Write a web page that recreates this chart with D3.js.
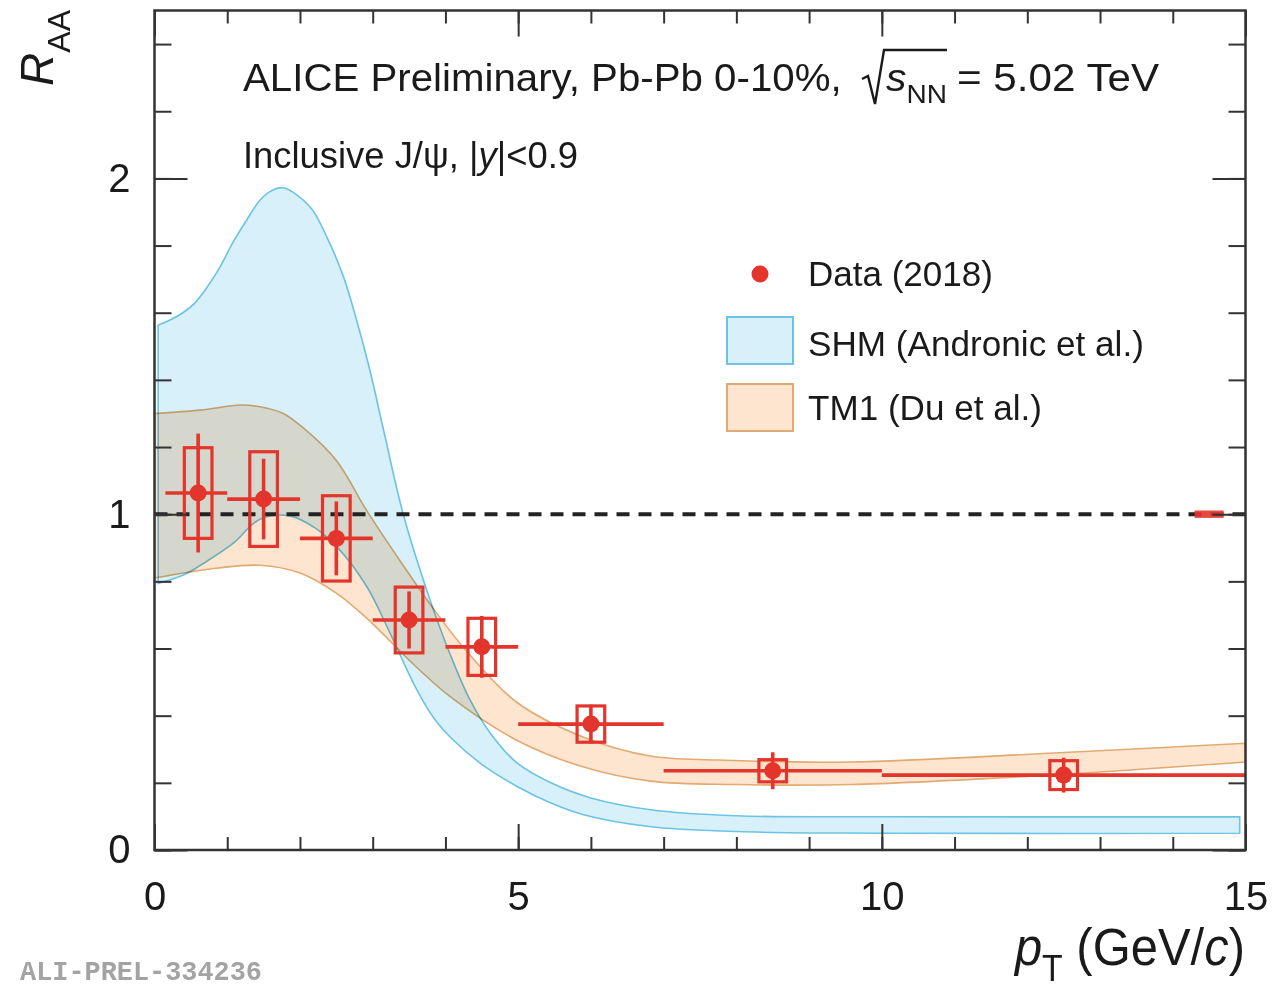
<!DOCTYPE html>
<html>
<head>
<meta charset="utf-8">
<script src="https://cdn.jsdelivr.net/npm/d3@7"></script>
<style>
  html, body { margin: 0; padding: 0; background: #fff; }
  svg { display: block; }
  text { font-family: "Liberation Sans", Arial, Helvetica, sans-serif; fill: #1a1a1a; }
</style>
</head>
<body>
<svg id="chart" width="1272" height="990"></svg>
<script>
// ---- J/psi R_AA vs pT, Pb-Pb 0-10%, 5.02 TeV ----
const ptCenter = [0.6, 1.5, 2.5, 3.5, 4.5, 6.0, 8.5, 12.5];
const ptLow    = [0.15, 1, 2, 3, 4, 5, 7, 10];
const ptHigh   = [1, 2, 3, 4, 5, 7, 10, 15];
const raa      = [1.063, 1.045, 0.928, 0.685, 0.605, 0.375, 0.236, 0.223];
const statErr  = [0.177, 0.12, 0.11, 0.085, 0.092, 0.058, 0.055, 0.052];
const systErr  = [0.135, 0.141, 0.127, 0.098, 0.085, 0.054, 0.033, 0.043];

// Global normalisation uncertainty (drawn at unity, high-pT end)
const normPt  = [14.3, 14.7];
const normErr = 0.011;

// SHM (Andronic et al.) band edges
const shmUpperPt = [0.05, 0.2, 0.39, 0.55, 0.72, 0.9, 1.08, 1.25, 1.45, 1.6, 1.77, 2.14, 2.37, 2.6, 2.78, 2.96, 3.15, 3.42, 3.79, 4.07, 4.34, 4.61, 4.98, 5.45, 6.0, 6.82, 8.0, 10.0, 14.92];
const shmUpper   = [1.563, 1.577, 1.60, 1.628, 1.675, 1.736, 1.81, 1.87, 1.935, 1.962, 1.972, 1.915, 1.825, 1.706, 1.577, 1.43, 1.25, 1.0, 0.744, 0.58, 0.446, 0.35, 0.26, 0.20, 0.155, 0.12, 0.102, 0.099, 0.099];
const shmLowerPt = [0.05, 0.39, 0.72, 1.08, 1.45, 1.86, 2.2, 2.5, 2.92, 3.24, 3.6, 3.85, 4.07, 4.5, 4.98, 5.45, 5.9, 6.8, 8.0, 10.0, 14.92];
const shmLower   = [0.794, 0.818, 0.86, 0.913, 0.985, 0.995, 0.96, 0.905, 0.784, 0.645, 0.48, 0.39, 0.335, 0.255, 0.19, 0.14, 0.105, 0.07, 0.055, 0.05, 0.05];

// TM1 (Du et al.) band edges
const tm1UpperPt = [0, 0.63, 1.18, 1.45, 1.77, 2.05, 2.5, 2.92, 3.38, 3.83, 4.3, 4.98, 5.9, 6.82, 7.74, 9.57, 12.3, 15];
const tm1Upper   = [1.30, 1.31, 1.325, 1.32, 1.30, 1.256, 1.16, 1.01, 0.86, 0.72, 0.59, 0.44, 0.336, 0.28, 0.268, 0.262, 0.288, 0.318];
const tm1LowerPt = [0, 0.85, 1.45, 2.0, 2.5, 2.92, 3.6, 4.07, 4.98, 5.9, 6.82, 8.0, 9.57, 12.3, 15];
const tm1Lower   = [0.81, 0.839, 0.848, 0.825, 0.765, 0.69, 0.545, 0.456, 0.327, 0.247, 0.205, 0.195, 0.195, 0.223, 0.262];

// Axes
const xDomain = [0, 15];
const yDomain = [0, 2.5];
const xMajorTicks = [0, 5, 10, 15];
const xMajorLabels = ["0", "5", "10", "15"];
const yMajorTicks = [0, 1, 2];
const yMajorLabels = ["0", "1", "2"];

const legendLabels = ["Data (2018)", "SHM (Andronic et al.)", "TM1 (Du et al.)"];

// ---- layout & styles ----
const L = 154.5, R = 1245.5, T = 10.5, B = 850;
const RED = "#e3352b";
const SHM_FILL = "#d7f0fa", SHM_LINE = "#6cc3e4";
const TM1_FILL = "#fde5d0", TM1_LINE = "#e2aa72";
const SYS_HALF = 0.19; // half width of the systematic boxes, in GeV/c

const svg = d3.select("#chart");
const x = d3.scaleLinear().domain(xDomain).range([L, R]);
const y = d3.scaleLinear().domain(yDomain).range([B, T]);

svg.append("defs").append("clipPath").attr("id", "plotArea")
  .append("rect").attr("x", L).attr("y", T).attr("width", R - L).attr("height", B - T);

const plot = svg.append("g").attr("clip-path", "url(#plotArea)");

// Closed band built from an upper and a lower edge
function bandPath(upPt, up, loPt, lo) {
  const line = d3.line().x(d => x(d[0])).y(d => y(d[1])).curve(d3.curveCatmullRom.alpha(0.5));
  const upper = upPt.map((p, i) => [p, up[i]]);
  const lower = loPt.map((p, i) => [p, lo[i]]).reverse();
  return line(upper) + "L" + line(lower).slice(1) + "Z";
}

plot.append("path")
  .attr("d", bandPath(shmUpperPt, shmUpper, shmLowerPt, shmLower))
  .attr("fill", SHM_FILL).attr("stroke", SHM_LINE).attr("stroke-width", 1.6)
  .style("mix-blend-mode", "multiply");

plot.append("path")
  .attr("d", bandPath(tm1UpperPt, tm1Upper, tm1LowerPt, tm1Lower))
  .attr("fill", TM1_FILL).attr("stroke", TM1_LINE).attr("stroke-width", 1.6)
  .style("mix-blend-mode", "multiply");

// Unity reference
plot.append("line")
  .attr("x1", x(0)).attr("x2", x(15)).attr("y1", y(1)).attr("y2", y(1))
  .attr("stroke", "#222").attr("stroke-width", 4).attr("stroke-dasharray", "13 9");

// Normalisation uncertainty box
plot.append("rect")
  .attr("x", x(normPt[0])).attr("width", x(normPt[1]) - x(normPt[0]))
  .attr("y", y(1 + normErr)).attr("height", y(1 - normErr) - y(1 + normErr))
  .attr("fill", RED).attr("opacity", 0.9);

// Data
const pts = ptCenter.map((c, i) => ({ c, lo: ptLow[i], hi: ptHigh[i], v: raa[i], st: statErr[i], sy: systErr[i] }));
const data = plot.append("g");

data.selectAll("rect.sys").data(pts).join("rect").attr("class", "sys")
  .attr("x", d => x(d.c - SYS_HALF)).attr("width", d => x(d.c + SYS_HALF) - x(d.c - SYS_HALF))
  .attr("y", d => y(d.v + d.sy)).attr("height", d => y(d.v - d.sy) - y(d.v + d.sy))
  .attr("fill", "none").attr("stroke", RED).attr("stroke-width", 3.2);

data.selectAll("line.xerr").data(pts).join("line").attr("class", "xerr")
  .attr("x1", d => x(d.lo)).attr("x2", d => x(d.hi))
  .attr("y1", d => y(d.v)).attr("y2", d => y(d.v))
  .attr("stroke", RED).attr("stroke-width", 3.6);

data.selectAll("line.yerr").data(pts).join("line").attr("class", "yerr")
  .attr("x1", d => x(d.c)).attr("x2", d => x(d.c))
  .attr("y1", d => y(d.v + d.st)).attr("y2", d => y(d.v - d.st))
  .attr("stroke", RED).attr("stroke-width", 3.6);

data.selectAll("circle").data(pts).join("circle")
  .attr("cx", d => x(d.c)).attr("cy", d => y(d.v)).attr("r", 8.5)
  .attr("fill", RED);

// ---- frame and ticks (inward, on all four sides) ----
const minorX = d3.range(0, 16, 1);
const minorY = d3.range(0, 2.5001, 0.2).map(v => +v.toFixed(1));
const tickStyle = g => {
  g.select(".domain").remove();
  g.selectAll(".tick line").attr("stroke", "#333").attr("stroke-width", 2);
};

svg.append("g").attr("transform", `translate(0,${B})`)
  .call(d3.axisBottom(x).tickValues(minorX).tickSize(-13).tickFormat(""))
  .call(tickStyle);
svg.append("g").attr("transform", `translate(0,${B})`)
  .call(d3.axisBottom(x).tickValues(xMajorTicks).tickSize(-26).tickPadding(32)
        .tickFormat((d, i) => xMajorLabels[i]))
  .call(tickStyle)
  .call(g => g.selectAll("text").attr("font-size", 40).attr("fill", "#1a1a1a")
        .style("font-family", "Liberation Sans, Arial, sans-serif"));
svg.append("g").attr("transform", `translate(0,${T})`)
  .call(d3.axisTop(x).tickValues(minorX).tickSize(-13).tickFormat(""))
  .call(tickStyle);
svg.append("g").attr("transform", `translate(0,${T})`)
  .call(d3.axisTop(x).tickValues(xMajorTicks).tickSize(-26).tickFormat(""))
  .call(tickStyle);

svg.append("g").attr("transform", `translate(${L},0)`)
  .call(d3.axisLeft(y).tickValues(minorY).tickSize(-17).tickFormat(""))
  .call(tickStyle);
svg.append("g").attr("transform", `translate(${L},0)`)
  .call(d3.axisLeft(y).tickValues(yMajorTicks).tickSize(-33).tickPadding(24)
        .tickFormat((d, i) => yMajorLabels[i]))
  .call(tickStyle)
  .call(g => g.selectAll("text").attr("font-size", 40).attr("fill", "#1a1a1a")
        .style("font-family", "Liberation Sans, Arial, sans-serif"));
svg.append("g").attr("transform", `translate(${R},0)`)
  .call(d3.axisRight(y).tickValues(minorY).tickSize(-17).tickFormat(""))
  .call(tickStyle);
svg.append("g").attr("transform", `translate(${R},0)`)
  .call(d3.axisRight(y).tickValues(yMajorTicks).tickSize(-33).tickFormat(""))
  .call(tickStyle);

svg.append("rect").attr("x", L).attr("y", T).attr("width", R - L).attr("height", B - T)
  .attr("fill", "none").attr("stroke", "#333").attr("stroke-width", 2.5);

// ---- text helpers ----
// squeeze/stretch a text node horizontally so it spans [x0, x1]
function fitX(sel, x0, x1) {
  const bb = sel.node().getBBox();
  const s = (x1 - x0) / bb.width;
  sel.attr("transform", `translate(${x0 - s * bb.x},0) scale(${s},1)`);
}

// Header
const head = svg.append("g");
const h1 = head.append("text").attr("x", 243).attr("y", 91).attr("font-size", 38)
  .text("ALICE Preliminary, Pb-Pb 0-10%,");
fitX(h1, 243, 842);
head.append("path")
  .attr("d", "M862,79 L868,76 L875,104 L884,50 L947,50")
  .attr("fill", "none").attr("stroke", "#1a1a1a").attr("stroke-width", 2.4)
  .attr("stroke-linejoin", "miter");
const h2 = head.append("text").attr("x", 885).attr("y", 91).attr("font-size", 38);
h2.append("tspan").attr("font-style", "italic").text("s");
h2.append("tspan").attr("font-size", 26).attr("dy", 12).text("NN");
fitX(h2, 886, 947);
const h3 = head.append("text").attr("x", 957).attr("y", 91).attr("font-size", 38)
  .text("= 5.02 TeV");
fitX(h3, 957, 1160);

const sub = svg.append("text").attr("x", 243).attr("y", 168).attr("font-size", 37);
sub.append("tspan").text("Inclusive J/\u03c8, |");
sub.append("tspan").attr("font-style", "italic").text("y");
sub.append("tspan").text("|<0.9");
fitX(sub, 243, 578);

// Legend
const leg = svg.append("g");
leg.append("circle").attr("cx", 760).attr("cy", 274).attr("r", 8.5).attr("fill", RED);
leg.append("rect").attr("x", 727).attr("y", 317).attr("width", 66).attr("height", 47)
  .attr("fill", SHM_FILL).attr("stroke", SHM_LINE).attr("stroke-width", 2);
leg.append("rect").attr("x", 727).attr("y", 384).attr("width", 66).attr("height", 47)
  .attr("fill", TM1_FILL).attr("stroke", TM1_LINE).attr("stroke-width", 2);
const legY = [286, 356, 420];
const legEnd = [993, 1144, 1042];
legendLabels.forEach((t, i) => {
  const el = leg.append("text").attr("x", 808).attr("y", legY[i]).attr("font-size", 35).text(t);
  fitX(el, 808, legEnd[i]);
});

// Axis titles
const yt = svg.append("text").attr("transform", "translate(53,10) rotate(-90)")
  .attr("text-anchor", "end").attr("font-size", 46);
yt.append("tspan").attr("font-style", "italic").text("R");
yt.append("tspan").attr("font-size", 32).attr("dy", 17).text("AA");

const xt = svg.append("text").attr("x", 1013).attr("y", 965).attr("font-size", 52);
xt.append("tspan").attr("font-style", "italic").text("p");
xt.append("tspan").attr("font-size", 36).attr("dy", 16).text("T");
xt.append("tspan").attr("dy", -16).text(" (GeV/");
xt.append("tspan").attr("font-style", "italic").text("c");
xt.append("tspan").text(")");
fitX(xt, 1013, 1245);

// Figure id
const fid = svg.append("text").attr("x", 20).attr("y", 980).attr("font-size", 27)
  .style("font-family", "Liberation Mono, Courier New, monospace")
  .attr("font-weight", "bold").style("fill", "#a3a3a3").text("ALI-PREL-334236");
fitX(fid, 20, 262);
</script>
</body>
</html>
